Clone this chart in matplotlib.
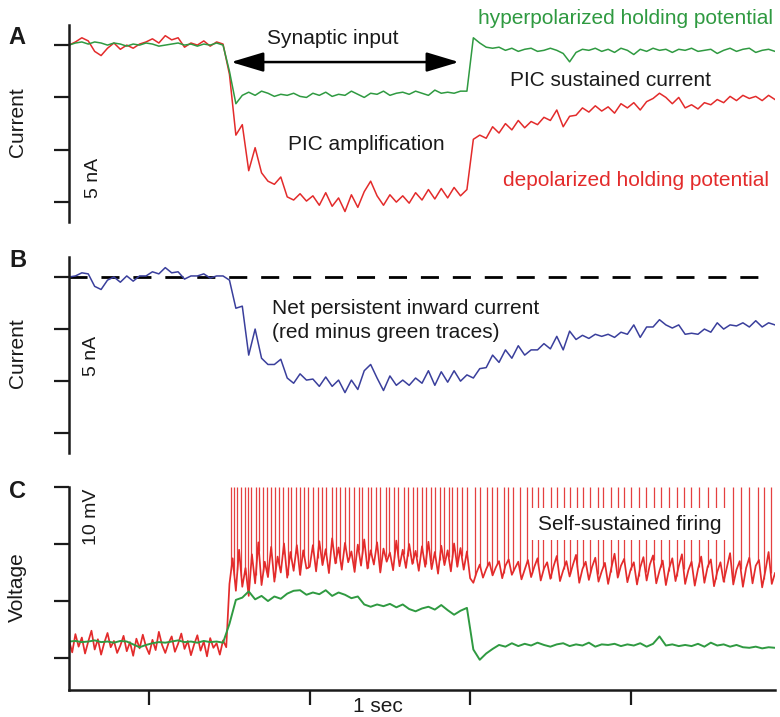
import numpy as np
import matplotlib.pyplot as plt

plt.rcParams['font.family'] = ['Liberation Sans', 'DejaVu Sans']

RED = '#e32b2b'
GREEN = '#2f9a41'
BLUE = '#3a3f9c'
INK = '#1a1a1a'

# panel A: holding current (nA), one sample every 0.04 s
dt_a = 0.04
green_a = [
    0.0, 0.2, 0.3, 0.1, 0.3, 0.2, 0.0, 0.2, 0.1, -0.1,
    0.1, 0.0, 0.2, 0.1, -0.1, 0.0, 0.1, 0.2, 0.0, 0.1,
    -0.1, 0.1, 0.0, 0.2, 0.0, -2.5, -5.6, -4.8, -4.5, -4.8,
    -4.4, -4.6, -4.9, -4.7, -4.8, -4.6, -4.9, -5.0, -4.6, -4.8,
    -4.5, -4.9, -4.7, -4.8, -4.4, -4.7, -5.0, -4.6, -4.7, -4.4,
    -4.8, -4.6, -4.5, -4.7, -4.4, -4.6, -4.8, -4.3, -4.6, -4.5,
    -4.6, -4.4, -4.4, 0.7, 0.2, -0.2, -0.3, -0.2, -0.5, -0.3,
    -0.6, -0.4, -0.3, -0.6, -0.5, -0.3, -0.5, -0.8, -1.6, -0.7,
    -0.4, -0.5, -0.3, -0.6, -0.4, -0.7, -0.3, -0.5, -0.9, -0.4,
    -0.6, -0.3, -0.5, -0.4, -0.7, -0.4, -0.5, -0.3, -0.6, -0.5,
    -0.4, -0.8, -0.5, -0.3, -0.6, -0.4, -0.3, -0.7, -0.5, -0.4,
    -0.6,
]
red_a = [
    0.0, 0.3, 0.7, 0.4, -0.6, -1.0, -0.3, 0.2, -0.4, 0.0,
    -0.3, 0.1, 0.3, 0.6, 0.2, 0.9, 0.5, 0.7, -0.2, 0.2,
    0.0, 0.4, -0.1, 0.3, 0.1, -2.8, -8.6, -7.6, -12.0, -9.8,
    -12.2, -13.0, -13.3, -12.6, -14.5, -14.8, -14.2, -14.9, -14.4, -15.3,
    -14.1, -15.4, -14.6, -15.9, -14.3, -15.5, -14.0, -13.0, -14.4, -15.3,
    -14.3, -15.0, -14.4, -15.1, -14.1, -14.8, -13.8, -14.7, -13.7, -14.6,
    -13.6, -14.4, -13.8, -9.0, -8.6, -8.9, -7.8, -8.4, -7.5, -8.1,
    -7.2, -7.9, -7.3, -7.6, -6.9, -7.2, -6.2, -7.8, -6.8, -6.7,
    -6.0, -6.4, -5.8, -6.3, -5.9, -6.5, -5.6, -6.0, -5.5, -6.2,
    -5.4, -5.1, -4.6, -5.0, -5.6, -5.0, -6.0, -5.7, -6.1, -5.5,
    -5.7, -5.2, -5.5, -4.9, -5.3, -4.8, -5.1, -4.9, -5.3, -4.8,
    -5.2,
]

# panel C: membrane voltage (mV above the lowest tick)
green_c = [
    2.9, 3.0, 2.8, 2.9, 3.1, 2.8, 2.9, 2.7, 3.0, 2.9,
    2.4, 1.9, 2.3, 2.6, 2.8, 2.7, 2.9, 3.1, 2.8, 2.9,
    2.7, 3.0, 2.8, 2.9, 2.7, 6.0, 10.2, 10.6, 11.7, 10.3,
    10.9, 10.0, 10.8, 10.4, 11.3, 11.8, 11.9, 11.1, 11.5, 11.2,
    11.9, 10.9, 11.5, 11.1, 10.5, 10.8, 9.4, 9.0, 9.4, 9.1,
    9.5, 8.9, 9.4, 8.6, 8.2, 8.7, 9.0, 8.5, 9.3, 8.4,
    7.6, 8.3, 8.8, 1.5, -0.3, 0.8, 1.6, 2.3, 2.0, 2.6,
    2.1, 2.5, 2.2, 2.7, 2.3, 2.0, 2.4, 2.6, 2.1, 2.4,
    2.2, 2.7, 2.0, 2.4, 2.3, 2.5, 2.1, 2.4, 2.2, 2.6,
    2.0, 2.5, 3.8, 2.2, 2.4, 2.1, 2.3, 2.1, 2.5, 2.0,
    2.7, 2.2, 2.4, 2.0, 2.3, 1.9, 1.8, 2.0, 1.7, 1.9,
    1.8,
]
dt_red_c = 0.02
red_c = [
    3.1, 1.0, 4.2, 2.0, 3.6, 0.8, 2.9, 4.8, 1.5, 3.3,
    0.6, 2.7, 4.4, 1.9, 3.0, 0.9, 2.2, 3.9, 1.2, 2.8,
    0.4, 3.4, 1.7, 4.1, 2.0, 0.7, 3.2, 1.4, 4.6, 2.3,
    0.9, 2.6, 3.8, 1.1, 2.5, 4.3, 1.6, 3.0, 0.5, 2.4,
    4.0, 1.3, 2.9, 0.3, 3.5, 1.8, 2.6, 0.6, 3.1, 1.9,
    13.0,
    17.5, 11.8, 19.0, 12.5, 15.8, 10.9, 18.2, 13.1, 20.3, 12.8,
    16.9, 14.2, 19.5, 13.4, 17.8, 15.0, 20.1, 14.1, 18.6, 15.3,
    19.8, 14.6, 18.9, 15.7,
    16.0, 19.8, 15.2, 20.5, 16.3, 19.1, 14.9, 21.0, 16.6, 19.4,
    15.5, 20.2, 16.8, 18.7, 15.1, 19.9, 16.2, 20.8, 15.7, 18.9,
    16.4, 20.3, 15.0, 19.2, 16.9, 18.5, 15.4, 20.6, 16.1, 19.0,
    15.8, 20.0, 16.5, 18.8, 15.3, 19.6, 16.0, 20.4, 15.6, 18.6,
    14.8, 19.7, 16.3, 18.9, 15.2, 20.1, 16.0, 19.3, 15.5, 18.7,
    14.0,
    13.2, 15.0, 16.4, 14.1, 15.6, 16.8, 14.5, 15.9, 17.0, 14.0,
    16.2, 17.3, 14.6, 15.8, 16.9, 13.8, 15.5, 17.2, 14.2, 16.0,
    17.5, 13.6, 15.7, 16.8, 13.9, 16.1, 17.9, 13.5, 15.4, 17.0,
    14.3, 16.3, 18.1, 13.2, 15.6, 16.9, 13.7, 16.0, 17.6, 13.4,
    15.2, 16.7, 13.0, 15.8, 18.3, 14.1, 16.2, 17.4, 13.3, 15.5,
    16.8, 12.9, 15.9, 17.7, 13.6, 16.4, 18.0, 13.1, 15.3, 17.1,
    12.8, 15.7, 17.5, 13.5, 16.1, 18.2, 13.0, 15.4, 16.9, 12.7,
    15.6, 17.8, 13.2, 16.0, 17.3, 12.6, 15.1, 16.8, 13.4, 15.9,
    18.4, 12.9, 15.5, 17.0, 12.5, 15.8, 17.6, 13.1, 16.2, 17.2,
    12.4, 15.3, 18.6, 13.0, 14.9,
]
spike_times = [
    1.011, 1.030, 1.050, 1.074, 1.094, 1.118, 1.137, 1.164, 1.184, 1.211,
    1.233, 1.262, 1.284, 1.311, 1.333, 1.362, 1.384, 1.414, 1.440, 1.467,
    1.492, 1.523, 1.549, 1.579, 1.604, 1.636, 1.661, 1.692, 1.717, 1.748,
    1.774, 1.805, 1.829, 1.861, 1.885, 1.916, 1.941, 1.973, 1.997, 2.028,
    2.053, 2.085, 2.110, 2.141, 2.166, 2.197, 2.222, 2.254, 2.278, 2.310,
    2.334, 2.366, 2.390, 2.421, 2.447, 2.478,
    2.533, 2.564, 2.608, 2.639, 2.670, 2.708, 2.739, 2.770, 2.813, 2.857,
    2.888, 2.926, 2.957, 3.001, 3.044, 3.082, 3.125, 3.169, 3.206, 3.250,
    3.294, 3.331, 3.375, 3.419, 3.456, 3.500, 3.550, 3.593, 3.643, 3.687,
    3.737, 3.787, 3.830, 3.874, 3.924, 3.980, 4.030, 4.080, 4.136, 4.186,
    4.236, 4.292, 4.330, 4.373,
]

green_a = np.array(green_a)
red_a = np.array(red_a)
net_b = red_a - green_a          # red minus green traces
t_a = np.arange(len(green_a)) * dt_a
t_gc = np.arange(len(green_c)) * dt_a
t_rc = np.arange(len(red_c)) * dt_red_c

W, H = 780, 717
fig = plt.figure(figsize=(7.8, 7.17), dpi=100)


def box(x0, y0, x1, y1):
    return [x0 / W, 1 - y1 / H, (x1 - x0) / W, (y1 - y0) / H]


def px(x, y):
    return x / W, 1 - y / H


axA = fig.add_axes(box(69, 25, 775, 222))
axB = fig.add_axes(box(69, 257, 775, 453))
axC = fig.add_axes(box(69, 487, 775, 690))

for ax in (axA, axB, axC):
    ax.set_xlim(0, 4.40)
    for s in ('top', 'right'):
        ax.spines[s].set_visible(False)
    ax.spines['left'].set_linewidth(1.8)
    ax.spines['left'].set_color(INK)
    ax.tick_params(axis='y', length=11, width=1.6, color=INK, labelleft=False)
    ax.patch.set_alpha(0)

for ax in (axA, axB):
    ax.spines['bottom'].set_visible(False)
    ax.set_xticks([])
    ax.set_ylim(-16.9, 1.92)
    ax.set_yticks([0, -5, -10, -15])

axC.set_ylim(-5.6, 30)
axC.set_yticks([0, 10, 20, 30])
axC.spines['bottom'].set_linewidth(1.8)
axC.spines['bottom'].set_color(INK)
axC.set_xticks([0.5, 1.5, 2.5, 3.5])
axC.tick_params(axis='x', length=11, width=1.6, color=INK, labelbottom=False)

# A
axA.plot(t_a, red_a, color=RED, lw=1.1)
axA.plot(t_a, green_a, color=GREEN, lw=1.1)
axA.annotate('', xy=(2.43, -1.62), xytext=(1.01, -1.62),
             arrowprops=dict(arrowstyle='<|-|>,head_length=1.0,head_width=0.3',
                             lw=1.8, color='black', mutation_scale=20,
                             shrinkA=0, shrinkB=0))

# B
axB.axhline(0, xmax=0.985, color='black', lw=2.0, dashes=(6.5, 5), zorder=1)
axB.plot(t_a, net_b, color=BLUE, lw=1.1, zorder=2)

# C
foot = np.interp(spike_times, t_rc, red_c)
axC.vlines(spike_times, foot, 30, color=RED, lw=0.9, alpha=0.9)
axC.plot(t_rc, red_c, color=RED, lw=1.25)
axC.plot(t_gc, green_c, color=GREEN, lw=1.4)

# labels
fs = 15
fig.text(*px(17, 37), 'A', fontsize=17, fontweight='bold', ha='center', va='center', color=INK)
fig.text(*px(18, 260), 'B', fontsize=17, fontweight='bold', ha='center', va='center', color=INK)
fig.text(*px(17, 491), 'C', fontsize=17, fontweight='bold', ha='center', va='center', color=INK)

fig.text(*px(17, 122), 'Current', fontsize=fs, rotation=90, ha='center', va='center', color=INK)
fig.text(*px(17, 353), 'Current', fontsize=fs, rotation=90, ha='center', va='center', color=INK)
fig.text(*px(17, 587), 'Voltage', fontsize=fs, rotation=90, ha='center', va='center', color=INK)

fig.text(*px(93, 178), '5 nA', fontsize=14, rotation=90, ha='center', va='center', color=INK)
fig.text(*px(92, 356), '5 nA', fontsize=14, rotation=90, ha='center', va='center', color=INK)
fig.text(*px(92, 517), '10 mV', fontsize=14, rotation=90, ha='center', va='center', color=INK)

fig.text(*px(333, 39), 'Synaptic input', fontsize=fs, ha='center', va='center', color=INK)
fig.text(*px(626, 18), 'hyperpolarized holding potential', fontsize=fs, ha='center', va='center', color=GREEN)
fig.text(*px(610, 80), 'PIC sustained current', fontsize=fs, ha='center', va='center', color=INK)
fig.text(*px(366, 145), 'PIC amplification', fontsize=fs, ha='center', va='center', color=INK)
fig.text(*px(636, 180), 'depolarized holding potential', fontsize=fs, ha='center', va='center', color=RED)

fig.text(*px(272, 308), 'Net persistent inward current', fontsize=fs, ha='left', va='center', color=INK)
fig.text(*px(272, 333), '(red minus green traces)', fontsize=fs, ha='left', va='center', color=INK)

fig.text(*px(630, 524), 'Self-sustained firing', fontsize=fs, ha='center', va='center', color=INK,
         bbox=dict(facecolor='white', edgecolor='none', pad=5))
fig.text(*px(378, 706), '1 sec', fontsize=fs, ha='center', va='center', color=INK)

fig.savefig('out.png', dpi=100)
